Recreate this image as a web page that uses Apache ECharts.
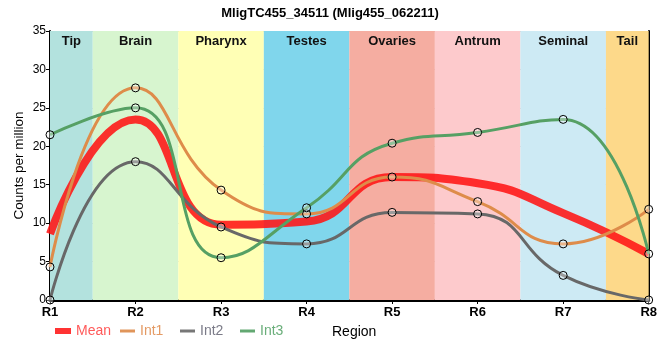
<!DOCTYPE html>
<html><head><meta charset="utf-8">
<script src="https://cdn.jsdelivr.net/npm/echarts@6/dist/echarts.min.js"></script>
<style>html,body{margin:0;padding:0;background:#fff}#c{width:660px;height:360px}</style>
</head><body><div id="c"></div>
<script>
const categories = ['R1','R2','R3','R4','R5','R6','R7','R8'];
const regions = ['Tip','Brain','Pharynx','Testes','Ovaries','Antrum','Seminal','Tail'];
const regionColors = ['#b3e2de','#d7f5cf','#ffffb5','#80d6ec','#f5ada1','#fdcacc','#cdeaf4','#fdd98a'];
const meanVals = [8.6, 23.5, 9.8, 10.2, 16.0, 15.2, 11.3, 6.0];
const int1Vals = [4.3, 27.6, 14.3, 11.2, 16.0, 12.8, 7.3, 11.8];
const int2Vals = [0.0, 18.0, 9.5, 7.3, 11.4, 11.2, 3.2, 0.0];
const int3Vals = [21.5, 25.0, 5.5, 12.0, 20.4, 21.8, 23.5, 6.0];
const yTicks = [0,5,10,15,20,25,30,35];

const chart = echarts.init(document.getElementById('c'));
const pts = v => v.map((y,i)=>[i,y]);
const bandData = regions.map((r,i)=>[
  {name:r, xAxis:Math.max(0,i-0.5), itemStyle:{color:regionColors[i]}},
  {xAxis:Math.min(categories.length-1,i+0.5)}
]);
const font = '"Liberation Sans",Arial,sans-serif';
function lineSeries(name, vals, color, width, sym){
  return {name, type:'line', data:pts(vals), smooth:0.5, showSymbol:sym, symbol:'circle', symbolSize:8,
    lineStyle:{color, width}, itemStyle:{color:color, borderColor:'#000', borderWidth:1},
    z: 3, emphasis:{disabled:true}};
}
function leg(left, name, iconColor, textColor, w, h){
  return {left, top:324, padding:0, itemWidth:w, itemHeight:h, selectedMode:false,
    textStyle:{fontSize:14, fontFamily:font},
    data:[{name, icon:'rect', itemStyle:{color:iconColor, borderWidth:0}, textStyle:{color:textColor}}]};
}
const markerStyle = {color:'rgba(255,255,255,0.35)', borderColor:'#000', borderWidth:1};
chart.setOption({
  animation:false,
  textStyle:{fontFamily:font},
  title:{text:'MligTC455_34511 (Mlig455_062211)', left:'center', top:2,
    textStyle:{fontSize:13, fontWeight:'bold', color:'#000', fontFamily:font}},
  grid:{left:50, right:10, top:31, bottom:60},
  legend:[
    leg(55,'Mean','#ff3333','#ff5a5a',16,6),
    leg(120,'Int1','#e0955a','#e49a64',15,3),
    leg(180,'Int2','#777','#7b7b88',15,3),
    leg(240,'Int3','#63a872','#6aae7a',15,3)
  ],
  graphic:[{type:'text', left:332, top:325, style:{text:'Region', font:'14px '+font, fill:'#000'}}],
  xAxis:{type:'value', min:0, max:7, interval:1,
    axisLine:{lineStyle:{color:'#000', width:3}},
    axisTick:{show:true, length:4, lineStyle:{color:'#000'}},
    axisLabel:{formatter:v=>categories[v]||'', color:'#000', fontSize:13, fontWeight:'bold', fontFamily:font, margin:6},
    splitLine:{show:true, lineStyle:{color:'#c8c8c8'}}},
  yAxis:[{type:'value', min:0, max:35, interval:5,
    name:'Counts per million', nameLocation:'middle', nameGap:24, nameMoveOverlap:false,
    nameTextStyle:{fontSize:13.5, color:'#000', fontFamily:font},
    axisLine:{show:true, lineStyle:{color:'#000', width:2}},
    axisTick:{show:true, length:4, lineStyle:{color:'#000'}},
    axisLabel:{formatter:v=>yTicks.includes(v)?String(v):'', color:'#000', fontSize:12, margin:4, fontFamily:font},
    splitLine:{show:true, lineStyle:{color:'#c8c8c8'}}},
    {type:'value', min:0, max:35, position:'right', axisLine:{show:true, lineStyle:{color:'#000', width:2}},
     axisTick:{show:false}, axisLabel:{show:false}, splitLine:{show:false}}],
  series:[
    {name:'bands', type:'line', data:[], silent:true, z:1,
     markArea:{silent:true, data:bandData,
       label:{show:true, position:'insideTop', distance:4, color:'#111', fontSize:13, fontWeight:'bold', fontFamily:font}}},
    lineSeries('Mean', meanVals, 'rgba(255,20,20,0.88)', 8, false),
    Object.assign(lineSeries('Int1', int1Vals, '#de8c4a', 3, true), {itemStyle:markerStyle}),
    Object.assign(lineSeries('Int2', int2Vals, '#686868', 3, true), {itemStyle:markerStyle}),
    Object.assign(lineSeries('Int3', int3Vals, '#56a064', 3, true), {itemStyle:markerStyle})
  ]
});
</script></body></html>
